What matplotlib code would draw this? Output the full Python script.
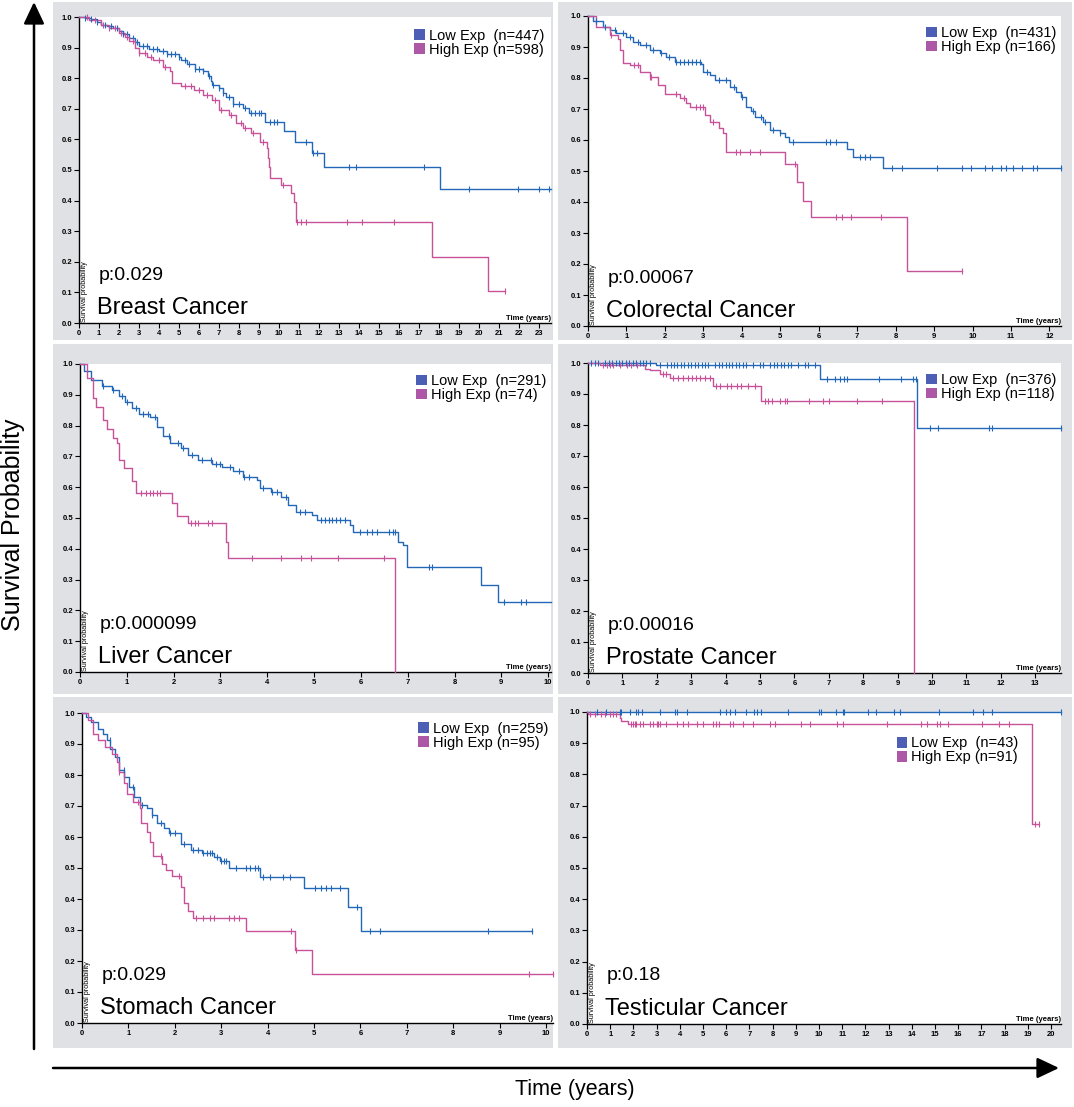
import numpy as np
import matplotlib
matplotlib.use('Agg')
import matplotlib.pyplot as plt
from matplotlib.patches import Patch, Rectangle
from matplotlib import font_manager

plt.rcParams['font.family'] = ['Liberation Sans', 'DejaVu Sans']

# ---- data ----
cancers = ['Breast Cancer', 'Colorectal Cancer', 'Liver Cancer',
           'Prostate Cancer', 'Stomach Cancer', 'Testicular Cancer']
p_values = ['p:0.029', 'p:0.00067', 'p:0.000099', 'p:0.00016', 'p:0.029', 'p:0.18']
n_low = [447, 431, 291, 376, 259, 43]
n_high = [598, 166, 74, 118, 95, 91]
x_max = [23.6, 12.3, 10.06, 13.75, 10.15, 20.43]

# Breast
breast_low_t = [0, 0.3, 0.6, 0.9, 1.1, 1.4, 1.7, 2.0, 2.2, 2.5, 2.8, 3.0, 3.5, 4.0, 4.4, 5.0, 5.1,
                5.4, 5.8, 6.2, 6.45, 6.6, 6.65, 7.0, 7.2, 7.35, 7.7, 8.2, 8.5, 9.3, 10.25, 10.8,
                11.66, 12.23, 18.06]
breast_low_s = [1.0, 0.998, 0.993, 0.985, 0.975, 0.97, 0.963, 0.955, 0.945, 0.932, 0.918, 0.905,
                0.897, 0.888, 0.88, 0.87, 0.86, 0.845, 0.83, 0.825, 0.808, 0.79, 0.778, 0.767,
                0.752, 0.74, 0.715, 0.702, 0.685, 0.658, 0.626, 0.593, 0.557, 0.511, 0.437]
breast_low_end = 23.6
breast_low_c = [0.3, 0.6, 0.9, 1.3, 1.6, 1.9, 2.2, 2.4, 2.7, 2.9, 3.2, 3.4, 3.7, 3.9, 4.2, 4.4,
                4.6, 4.8, 5.0, 5.3, 5.5, 5.8, 6.0, 6.2, 6.5, 6.7, 7.0, 7.2, 7.5, 7.7, 8.0, 8.3,
                8.6, 8.8, 9.0, 9.1, 9.56, 9.73, 9.9, 11.37, 11.7, 11.9, 13.5, 13.83, 17.26,
                19.5, 21.97, 23.0, 23.5]
breast_high_t = [0, 0.5, 1.1, 1.5, 2.0, 2.3, 2.5, 2.8, 3.0, 3.4, 3.7, 4.2, 4.57, 4.65, 5.08, 5.77,
                 6.2, 6.63, 6.98, 7.5, 7.84, 8.18, 8.6, 9.05, 9.39, 9.45, 9.48, 9.56, 10.08,
                 10.6, 10.77, 10.85, 17.66, 20.45]
breast_high_s = [1.0, 0.99, 0.975, 0.965, 0.948, 0.935, 0.92, 0.9, 0.882, 0.87, 0.86, 0.838,
                 0.822, 0.784, 0.775, 0.762, 0.746, 0.729, 0.697, 0.68, 0.655, 0.636, 0.62,
                 0.593, 0.571, 0.54, 0.511, 0.473, 0.451, 0.424, 0.396, 0.331, 0.216, 0.105]
breast_high_end = 21.3
breast_high_c = [0.4, 0.8, 1.2, 1.5, 1.8, 2.1, 2.4, 2.7, 3.0, 3.3, 3.6, 4.0, 4.3, 5.3, 5.6, 6.0,
                 6.4, 6.8, 7.1, 7.6, 8.1, 8.3, 8.7, 9.2, 10.2, 10.9, 11.1, 11.37, 13.4, 14.13,
                 15.73, 21.3]

# Colorectal
colo_low_t = [0, 0.13, 0.39, 0.56, 0.74, 1.0, 1.17, 1.34, 1.6, 1.87, 2.04, 2.26, 2.95, 3.0, 3.17,
              3.3, 3.51, 3.69, 3.86, 3.99, 4.12, 4.25, 4.34, 4.56, 4.73, 4.99, 5.12, 5.23, 6.74,
              6.9, 7.68]
colo_low_s = [1.0, 0.985, 0.966, 0.955, 0.944, 0.933, 0.917, 0.906, 0.89, 0.882, 0.869, 0.853,
              0.845, 0.82, 0.81, 0.794, 0.792, 0.772, 0.755, 0.74, 0.708, 0.692, 0.675, 0.659,
              0.632, 0.622, 0.611, 0.592, 0.57, 0.545, 0.511]
colo_low_end = 12.3
colo_low_c = [0.2, 0.45, 0.7, 0.9, 1.1, 1.3, 1.5, 1.7, 1.9, 2.1, 2.3, 2.4, 2.5, 2.6, 2.7, 2.8,
              2.9, 3.1, 3.4, 3.6, 3.8, 4.0, 4.3, 4.5, 4.6, 4.8, 5.0, 5.34, 6.2, 6.29, 6.46,
              7.07, 7.2, 7.33, 7.9, 8.16, 9.07, 9.72, 9.95, 10.33, 10.5, 10.73, 10.87, 11.06,
              11.28, 11.58, 11.67, 12.3]
colo_high_t = [0, 0.22, 0.56, 0.78, 0.82, 0.91, 1.08, 1.34, 1.6, 1.82, 2.0, 2.39, 2.56, 2.65,
               3.04, 3.17, 3.41, 3.51, 3.6, 5.12, 5.44, 5.6, 5.81, 8.3]
colo_high_s = [1.0, 0.966, 0.939, 0.925, 0.89, 0.847, 0.842, 0.82, 0.802, 0.777, 0.748, 0.734,
               0.718, 0.708, 0.682, 0.659, 0.638, 0.622, 0.562, 0.523, 0.466, 0.404, 0.353, 0.176]
colo_high_end = 9.72
colo_high_c = [0.6, 1.2, 1.3, 1.6, 1.65, 2.3, 2.5, 2.8, 2.9, 3.0, 3.25, 3.86, 3.95, 4.21, 4.47,
               5.38, 6.46, 6.6, 6.83, 7.61, 9.72]

# Liver
liver_low_t = [0, 0.09, 0.24, 0.46, 0.68, 0.83, 0.97, 1.12, 1.27, 1.49, 1.64, 1.78, 1.93, 2.15,
               2.3, 2.52, 2.81, 3.04, 3.26, 3.48, 3.77, 3.85, 4.07, 4.29, 4.44, 4.62, 4.95, 5.06,
               5.76, 5.84, 6.79, 6.9, 6.98, 8.56, 8.92]
liver_low_s = [1.0, 0.976, 0.949, 0.927, 0.916, 0.895, 0.878, 0.857, 0.838, 0.828, 0.797, 0.765,
               0.743, 0.727, 0.705, 0.687, 0.676, 0.667, 0.651, 0.634, 0.624, 0.597, 0.586,
               0.569, 0.542, 0.521, 0.51, 0.494, 0.477, 0.455, 0.423, 0.412, 0.342, 0.284, 0.226]
liver_low_end = 10.06
liver_low_c = [0.5, 0.7, 0.9, 1.0, 1.2, 1.35, 1.45, 1.6, 1.9, 2.1, 2.2, 2.4, 2.6, 2.8, 2.9, 3.0,
               3.2, 3.4, 3.5, 3.6, 3.9, 4.1, 4.2, 4.4, 4.7, 4.8, 5.14, 5.24, 5.31, 5.39, 5.46,
               5.56, 5.65, 5.98, 6.13, 6.24, 6.35, 6.61, 6.68, 6.72, 7.46, 7.52, 9.06, 9.41, 9.52]
liver_high_t = [0, 0.16, 0.27, 0.35, 0.49, 0.57, 0.71, 0.79, 0.83, 0.94, 1.12, 1.19, 1.97, 2.08,
                2.3, 3.11, 3.16, 6.72]
liver_high_s = [1.0, 0.954, 0.889, 0.862, 0.819, 0.789, 0.759, 0.743, 0.689, 0.662, 0.619, 0.581,
                0.548, 0.505, 0.483, 0.423, 0.371, 0.0]
liver_high_end = 6.72
liver_high_c = [1.3, 1.41, 1.49, 1.56, 1.64, 1.71, 2.37, 2.45, 2.52, 2.74, 2.81, 3.68, 4.29, 4.73,
                4.93, 5.5, 6.5]

# Prostate
pros_low_t = [0, 1.99, 6.74, 9.57]
pros_low_s = [1.0, 0.995, 0.95, 0.789]
pros_low_end = 13.75
pros_low_c = [0.1, 0.2, 0.3, 0.5, 0.6, 0.7, 0.8, 0.9, 1.0, 1.1, 1.2, 1.3, 1.4, 1.5, 1.6, 1.7, 1.8,
              2.1, 2.3, 2.4, 2.5, 2.6, 2.7, 2.8, 2.9, 3.0, 3.1, 3.2, 3.3, 3.4, 3.5, 3.7, 3.8, 3.9,
              4.0, 4.1, 4.2, 4.3, 4.4, 4.5, 4.6, 4.8, 5.0, 5.1, 5.3, 5.4, 5.5, 5.6, 5.7, 5.8,
              5.9, 6.1, 6.3, 6.4, 6.6, 6.94, 7.18, 7.33, 7.43, 7.52, 8.47, 9.09, 9.44, 9.54,
              9.94, 10.17, 11.67, 11.74, 13.75]
pros_high_t = [0, 0.34, 1.65, 1.79, 2.09, 2.38, 3.64, 5.04, 9.48]
pros_high_s = [1.0, 0.992, 0.982, 0.976, 0.966, 0.953, 0.925, 0.878, 0.0]
pros_high_end = 9.48
pros_high_c = [0.44, 0.54, 0.63, 0.73, 0.92, 1.12, 1.26, 1.41, 2.18, 2.28, 2.47, 2.62, 2.76,
               2.91, 3.01, 3.15, 3.25, 3.4, 3.54, 3.73, 3.83, 4.03, 4.17, 4.32, 4.46, 4.66,
               4.85, 5.14, 5.24, 5.34, 5.58, 5.73, 5.78, 6.41, 6.84, 7.02, 7.81, 8.54]

# Stomach
stom_low_t = [0, 0.09, 0.2, 0.35, 0.46, 0.53, 0.61, 0.72, 0.79, 0.91, 1.02, 1.13, 1.24, 1.39,
              1.5, 1.61, 1.76, 1.87, 2.13, 2.35, 2.58, 2.84, 2.98, 3.17, 3.84, 4.78, 5.73, 6.01]
stom_low_s = [1.0, 0.987, 0.971, 0.95, 0.933, 0.912, 0.885, 0.858, 0.815, 0.792, 0.762, 0.73,
              0.703, 0.692, 0.67, 0.644, 0.628, 0.612, 0.579, 0.558, 0.547, 0.536, 0.524, 0.5,
              0.472, 0.437, 0.373, 0.298]
stom_low_end = 9.69
stom_low_c = [0.6, 0.9, 1.1, 1.3, 1.5, 1.7, 1.9, 2.0, 2.2, 2.4, 2.5, 2.6, 2.7, 2.75, 2.8, 2.9,
              3.0, 3.05, 3.1, 3.32, 3.54, 3.61, 3.73, 3.8, 3.91, 4.06, 4.34, 4.48, 5.03, 5.15,
              5.26, 5.37, 5.55, 5.93, 6.2, 6.42, 8.74, 9.69]
stom_high_t = [0, 0.13, 0.24, 0.35, 0.5, 0.65, 0.76, 0.79, 0.91, 0.98, 1.09, 1.24, 1.28, 1.39,
               1.46, 1.54, 1.72, 1.8, 1.95, 2.13, 2.2, 2.28, 2.39, 3.54, 4.6, 4.95]
stom_high_s = [1.0, 0.976, 0.933, 0.912, 0.891, 0.867, 0.842, 0.81, 0.773, 0.74, 0.713, 0.692,
               0.644, 0.617, 0.584, 0.54, 0.513, 0.494, 0.474, 0.44, 0.386, 0.362, 0.339, 0.298,
               0.236, 0.158]
stom_high_end = 10.15
stom_high_c = [0.8, 1.2, 1.7, 2.1, 2.46, 2.6, 2.75, 2.84, 3.17, 3.28, 3.39, 4.5, 4.62, 9.63, 10.15]

# Testicular
test_low_t = [0]
test_low_s = [1.0]
test_low_end = 20.43
test_low_c = [0.43, 0.83, 1.44, 1.48, 1.87, 2.13, 2.2, 2.35, 3.14, 3.78, 3.86, 4.33, 5.73, 6.01,
              6.16, 6.37, 6.85, 7.19, 7.31, 7.52, 8.68, 10.0, 10.07, 10.73, 11.02, 11.08, 12.13,
              12.46, 13.25, 13.5, 15.19, 16.65, 17.06, 17.45, 20.43]
test_high_t = [0, 0.04, 1.41, 1.48, 1.77, 19.18]
test_high_s = [1.0, 0.993, 0.981, 0.972, 0.963, 0.642]
test_high_end = 19.47
test_high_c = [0.12, 0.33, 0.62, 0.76, 0.98, 1.12, 1.27, 1.91, 1.99, 2.06, 2.13, 2.27, 2.42, 2.71,
               2.85, 3.0, 3.07, 3.14, 3.42, 3.86, 4.14, 4.36, 4.72, 5.01, 5.44, 5.58, 5.7, 6.16,
               6.3, 6.73, 7.14, 7.88, 8.1, 9.21, 9.61, 10.76, 11.05, 12.95, 14.39, 14.65, 15.08,
               15.22, 15.58, 17.02, 17.74, 18.17, 19.32, 19.47]

low_curves = [(breast_low_t, breast_low_s, breast_low_end, breast_low_c),
              (colo_low_t, colo_low_s, colo_low_end, colo_low_c),
              (liver_low_t, liver_low_s, liver_low_end, liver_low_c),
              (pros_low_t, pros_low_s, pros_low_end, pros_low_c),
              (stom_low_t, stom_low_s, stom_low_end, stom_low_c),
              (test_low_t, test_low_s, test_low_end, test_low_c)]
high_curves = [(breast_high_t, breast_high_s, breast_high_end, breast_high_c),
               (colo_high_t, colo_high_s, colo_high_end, colo_high_c),
               (liver_high_t, liver_high_s, liver_high_end, liver_high_c),
               (pros_high_t, pros_high_s, pros_high_end, pros_high_c),
               (stom_high_t, stom_high_s, stom_high_end, stom_high_c),
               (test_high_t, test_high_s, test_high_end, test_high_c)]

# ---- layout (pixels in a 1074x1107 canvas) ----
W, H = 1074, 1107
axes_px = [(79, 17, 551, 323), (588, 16, 1061, 326),
           (80, 364, 551, 672), (588, 363, 1061, 673),
           (82, 713, 553, 1023), (587, 712, 1061, 1024)]
gray_px = [(53, 2, 553, 340), (558, 2, 1072, 340),
           (53, 344, 553, 694), (558, 344, 1072, 694),
           (53, 697, 553, 1048), (558, 697, 1072, 1048)]
legend_anchor = [(0.985, 0.962), (0.99, 0.967), (0.99, 0.967),
                 (0.99, 0.967), (0.99, 0.972), (0.91, 0.922)]

BLUE = '#2367b9'
PINK = '#c7529a'
BLUE_SQ = '#4d5fb5'
PINK_SQ = '#ad58a6'
GRAY = '#dfe1e4'

installed = {f.name for f in font_manager.fontManager.ttflist}
if 'Liberation Sans Narrow' in installed:
    legend_prop = {'family': 'Liberation Sans Narrow', 'size': 12}
else:
    legend_prop = {'family': 'Liberation Sans', 'size': 10.5}


def draw_km(ax, times, surv, end, censor, color):
    t = list(times) + [end]
    s = list(surv) + [surv[-1]]
    ax.step(t, s, where='post', color=color, lw=1.0, clip_on=False, zorder=3)
    idx = np.searchsorted(times, censor, side='right') - 1
    ax.plot(censor, np.array(surv)[idx], ls='none', marker='|', ms=4, mew=0.8,
            color=color, clip_on=False, zorder=4)


fig = plt.figure(figsize=(W / 100, H / 100), dpi=100)

bg = fig.add_axes([0, 0, 1, 1], zorder=-1)
bg.set_xlim(0, W)
bg.set_ylim(H, 0)
bg.axis('off')
for l, t, r, b in gray_px:
    bg.add_patch(Rectangle((l, t), r - l, b - t, facecolor=GRAY, edgecolor='none'))

arrow = dict(arrowstyle='-|>,head_length=0.95,head_width=0.45', lw=1.8, color='k',
             shrinkA=0, shrinkB=0, mutation_scale=14)
bg.annotate('', xy=(34, 2), xytext=(34, 1049), arrowprops=arrow)
bg.annotate('', xy=(1059, 1068), xytext=(53, 1068), arrowprops=arrow)
bg.text(13, 525, 'Survival Probability', rotation=90, ha='center', va='center', fontsize=18)
bg.text(575, 1090, 'Time (years)', ha='center', va='center', fontsize=15.5)

for i in range(6):
    l, t, r, b = axes_px[i]
    ax = fig.add_axes([l / W, 1 - b / H, (r - l) / W, (b - t) / H])
    ax.set_facecolor('white')
    draw_km(ax, *low_curves[i], BLUE)
    draw_km(ax, *high_curves[i], PINK)

    ax.set_xlim(0, x_max[i])
    ax.set_ylim(0, 1.0)
    ax.set_xticks(np.arange(0, int(x_max[i]) + 1))
    yt = np.round(np.arange(0, 1.01, 0.1), 1)
    ax.set_yticks(yt)
    ax.set_yticklabels([f'{v:.1f}' for v in yt])
    for side in ['top', 'right']:
        ax.spines[side].set_visible(False)
    for side in ['left', 'bottom']:
        ax.spines[side].set_linewidth(1.0)
    ax.tick_params(length=3.5, width=0.8, labelsize=5.5, pad=1.5)
    for lbl in ax.get_xticklabels() + ax.get_yticklabels():
        lbl.set_fontweight('bold')

    ax.text(1.0, 0.004, 'Time (years)', transform=ax.transAxes, ha='right', va='bottom',
            fontsize=5.5, fontweight='bold')
    ax.text(0.005, 0.004, 'Survival probability', transform=ax.transAxes, rotation=90,
            ha='left', va='bottom', fontsize=5.2)
    ax.text(0.042, 0.14, p_values[i], transform=ax.transAxes, ha='left', va='baseline',
            fontsize=14)
    ax.text(0.038, 0.03, cancers[i], transform=ax.transAxes, ha='left', va='baseline',
            fontsize=17)

    handles = [Patch(facecolor=BLUE_SQ, edgecolor='none', label=f'Low Exp  (n={n_low[i]})'),
               Patch(facecolor=PINK_SQ, edgecolor='none', label=f'High Exp (n={n_high[i]})')]
    ax.legend(handles=handles, loc='upper right', bbox_to_anchor=legend_anchor[i],
              frameon=False, prop=legend_prop, handlelength=0.75, handleheight=0.75,
              handletextpad=0.25, labelspacing=0.0, borderpad=0, borderaxespad=0)

fig.savefig('out.png', dpi=100)
